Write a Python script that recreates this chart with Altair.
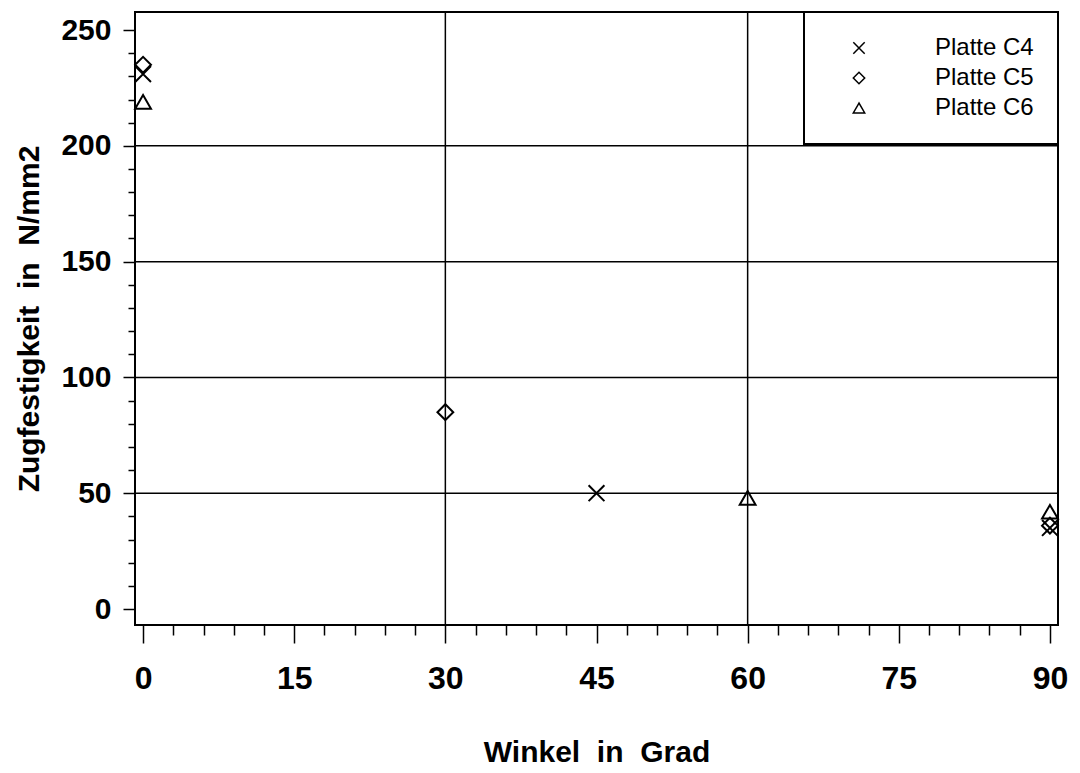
import altair as alt
import pandas as pd

# ---- data ----
serien = ["Platte C4", "Platte C5", "Platte C6"]
c4_winkel = [0, 45, 90]
c4_festigkeit = [231, 50, 35]
c5_winkel = [0, 30, 90]
c5_festigkeit = [235, 85, 36]
c6_winkel = [0, 60, 90]
c6_festigkeit = [219, 48, 42]

x_ticks = [0, 15, 30, 45, 60, 75, 90]
x_minor = [v for v in range(0, 91, 3) if v % 15]
y_ticks = [0, 50, 100, 150, 200, 250]
y_minor = [v for v in range(0, 251, 10) if v % 50]
grid_x = [30, 60]
grid_y = [50, 100, 150, 200]
x_domain = [-0.8, 90.8]
y_domain = [-6.9, 257.8]

rows = []
for name, wx, wy in [(serien[0], c4_winkel, c4_festigkeit),
                     (serien[1], c5_winkel, c5_festigkeit),
                     (serien[2], c6_winkel, c6_festigkeit)]:
    for a, b in zip(wx, wy):
        rows.append({"Platte": name, "Winkel": a, "Zugfestigkeit": b})
df = pd.DataFrame(rows)

FONT = "Liberation Sans"
xs = alt.Scale(domain=x_domain, nice=False, zero=False)
ys = alt.Scale(domain=y_domain, nice=False, zero=False)
x_path = "M-1,-1L1,1M-1,1L1,-1"

gx = alt.Chart(pd.DataFrame({"Winkel": grid_x})).mark_rule(
    color="black", strokeWidth=1.5).encode(x=alt.X("Winkel:Q", scale=xs, axis=None))
gy = alt.Chart(pd.DataFrame({"Zugfestigkeit": grid_y})).mark_rule(
    color="black", strokeWidth=1.5).encode(y=alt.Y("Zugfestigkeit:Q", scale=ys, axis=None))

minor = alt.Chart(df).mark_point(opacity=0).encode(
    x=alt.X("Winkel:Q", scale=xs,
            axis=alt.Axis(values=x_minor, tickSize=10, labels=False, domain=False,
                          grid=False, title=None, orient="bottom")),
    y=alt.Y("Zugfestigkeit:Q", scale=ys,
            axis=alt.Axis(values=y_minor, tickSize=7, labels=False, domain=False,
                          grid=False, title=None, orient="left")),
)

points = alt.Chart(df).mark_point(filled=False, color="black", strokeWidth=2,
                                  size=250, opacity=1).encode(
    x=alt.X("Winkel:Q", scale=xs,
            axis=alt.Axis(values=x_ticks, tickSize=18, grid=False, domain=False,
                          orient="bottom", title="Winkel\u00a0\u00a0in\u00a0\u00a0Grad",
                          labelFontSize=32, labelPadding=20, titleFontSize=30,
                          titlePadding=43, labelFlush=False)),
    y=alt.Y("Zugfestigkeit:Q", scale=ys,
            axis=alt.Axis(values=y_ticks, tickSize=12, grid=False, domain=False,
                          orient="left",
                          title="Zugfestigkeit\u00a0\u00a0in\u00a0\u00a0N/mm2",
                          labelFontSize=30, labelPadding=12, titleFontSize=30,
                          titlePadding=16, labelFlush=False)),
    shape=alt.Shape("Platte:N",
                    scale=alt.Scale(domain=serien, range=[x_path, "diamond", "triangle-up"]),
                    legend=alt.Legend(title=None, orient="top-right", offset=0, padding=24,
                                      strokeColor="black", fillColor="white",
                                      labelFontSize=24, labelFont=FONT, labelColor="black",
                                      symbolSize=130, symbolStrokeWidth=1.5,
                                      symbolStrokeColor="black", labelOffset=64,
                                      symbolOffset=19, rowPadding=6)),
)

chart = alt.layer(gx, gy, minor, points).resolve_axis(
    x="independent", y="independent"
).properties(
    width=923, height=613,
    autosize=alt.AutoSizeParams(type="none"),
    padding={"left": 127, "top": 4, "right": 10, "bottom": 145},
    background="white",
).configure_view(
    stroke="black", strokeWidth=2
).configure_axis(
    tickColor="black", tickWidth=1.5, labelColor="black", titleColor="black",
    labelFont=FONT, titleFont=FONT, labelFontWeight="bold", titleFontWeight="bold"
).configure_legend(
    strokeWidth=2
)

chart.save("out.html", embed_options={"renderer": "svg", "actions": False})
